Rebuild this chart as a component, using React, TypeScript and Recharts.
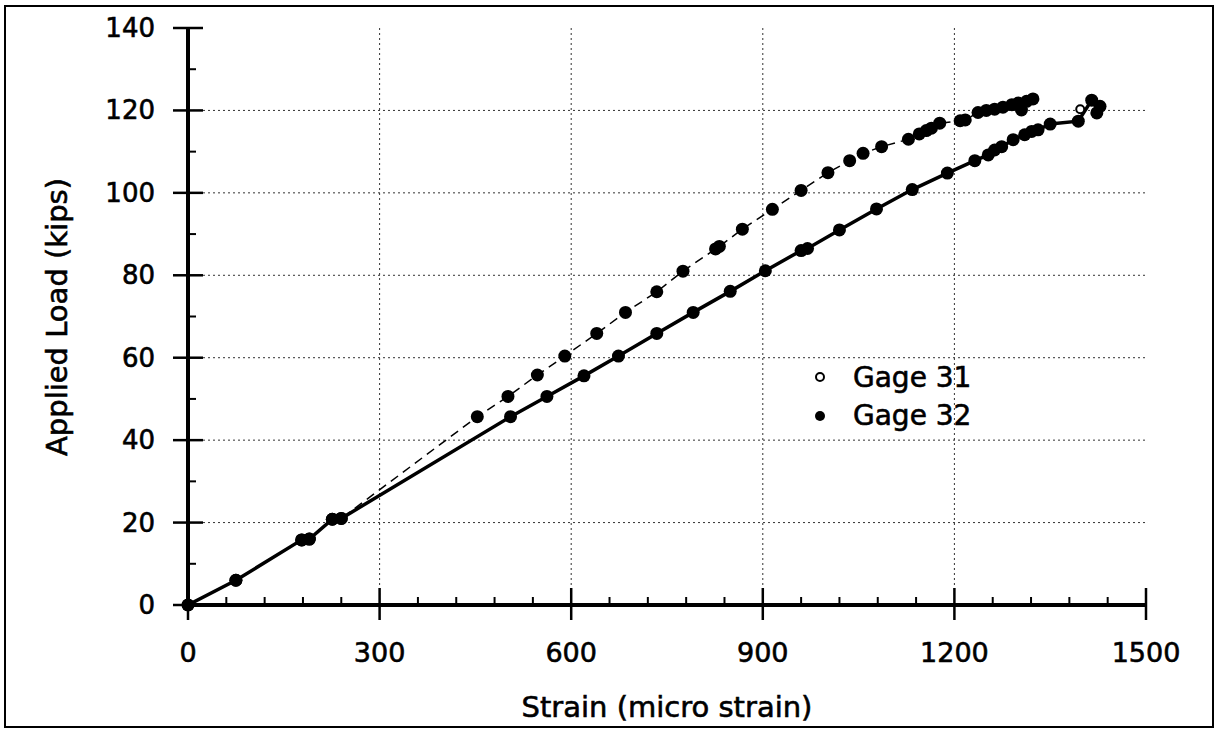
import React from 'react';
import { LineChart, Line, XAxis, YAxis, ReferenceLine } from 'recharts';

// ---- tick labels / axes ----
const xTicks = [0, 60, 120, 180, 240, 300, 360, 420, 480, 540, 600, 660, 720, 780, 840, 900, 960, 1020, 1080, 1140, 1200, 1260, 1320, 1380, 1440, 1500];
const yTicks = [0, 10, 20, 30, 40, 50, 60, 70, 80, 90, 100, 110, 120, 130, 140];
const xMajor = [0, 300, 600, 900, 1200, 1500];
const yMajor = [0, 20, 40, 60, 80, 100, 120, 140];
const xGrid = [300, 600, 900, 1200];
const yGrid = [20, 40, 60, 80, 100, 120];

// ---- solid line series (markers) ----
const solidStrain = [0, 75, 178, 190, 226, 240, 505, 562, 620, 674, 734, 791, 849, 904, 960, 970, 1020, 1078, 1134, 1189, 1232, 1253, 1263, 1274, 1292, 1310, 1321, 1331, 1350, 1394, 1415, 1428, 1423];
const solidLoad = [0, 6, 15.8, 16, 20.8, 21, 45.7, 50.6, 55.6, 60.4, 65.9, 71, 76.1, 81.1, 86, 86.5, 91, 96.1, 100.8, 104.8, 107.8, 109.2, 110.4, 111.2, 112.9, 114.1, 114.9, 115.3, 116.7, 117.4, 122.5, 121, 119.4];

// ---- dashed line series (Gage 32) ----
const dashStrain = [0, 75, 178, 190, 226, 240, 453, 501, 547, 590, 640, 685, 734, 775, 826, 832, 868, 915, 960, 1002, 1036, 1057, 1086, 1128, 1145, 1156, 1164, 1177, 1209, 1217, 1237, 1250, 1263, 1276, 1290, 1300, 1313, 1323, 1305];
const dashLoad = [0, 6, 15.8, 16, 20.8, 21, 45.7, 50.6, 55.8, 60.4, 65.9, 71, 76, 81, 86.4, 87, 91.2, 96, 100.6, 104.9, 107.8, 109.6, 111.2, 113, 114.3, 115.1, 115.7, 116.9, 117.5, 117.7, 119.5, 120, 120.3, 120.8, 121.4, 121.8, 122.2, 122.8, 120.1];

// ---- open-circle points (Gage 31) ----
const openStrain = [1397];
const openLoad = [120.3];

const toPts = (xs: number[], ys: number[]) => xs.map((x, i) => ({ x, y: ys[i] }));
const solidData = toPts(solidStrain, solidLoad);
const dashData = toPts(dashStrain, dashLoad);
const openData = toPts(openStrain, openLoad);

const FONT = 'DejaVu Sans';
const TXT_STROKE = 0.6;

const BottomTick = (props: any) => {
  const { x, y, payload } = props;
  const major = xMajor.includes(payload.value);
  return (
    <g>
      {major ? (
        <line x1={x} x2={x} y1={y - 17} y2={y + 15} stroke="#000" strokeWidth={2.5} />
      ) : (
        <line x1={x} x2={x} y1={y - 8} y2={y} stroke="#000" strokeWidth={2} />
      )}
      {major && (
        <text x={x} y={y + 47} textAnchor="middle" dominantBaseline="central" fontFamily={FONT} fontSize={27} fill="#000" stroke="#000" strokeWidth={TXT_STROKE}>
          {payload.value}
        </text>
      )}
    </g>
  );
};

const TopTick = (props: any) => {
  const { x, y, payload } = props;
  const major = xMajor.includes(payload.value);
  return <line x1={x} x2={x} y1={y} y2={y + (major ? 15 : 8)} stroke="#000" strokeWidth={major ? 2.5 : 2} />;
};

const LeftTick = (props: any) => {
  const { x, y, payload } = props;
  const major = yMajor.includes(payload.value);
  return (
    <g>
      {major ? (
        <line x1={x - 15} x2={x + 15} y1={y} y2={y} stroke="#000" strokeWidth={2.5} />
      ) : (
        <line x1={x} x2={x + 8} y1={y} y2={y} stroke="#000" strokeWidth={2} />
      )}
      {major && (
        <text x={x - 33} y={y} textAnchor="end" dominantBaseline="central" fontFamily={FONT} fontSize={26} fill="#000" stroke="#000" strokeWidth={TXT_STROKE}>
          {payload.value}
        </text>
      )}
    </g>
  );
};

const RightTick = (props: any) => {
  const { x, y, payload } = props;
  const major = yMajor.includes(payload.value);
  return <line x1={x - (major ? 15 : 8)} x2={x} y1={y} y2={y} stroke="#000" strokeWidth={major ? 2.5 : 2} />;
};

const axisLineStyle = { stroke: '#000', strokeWidth: 4 };

export default function App() {
  return (
    <div style={{ position: 'absolute', left: 0, top: 0, width: 1223, height: 730, background: '#fff', fontFamily: FONT }}>
      <div
        style={{
          position: 'absolute',
          left: 4,
          top: 5,
          width: 1210,
          height: 723,
          border: '2px solid #000',
          boxSizing: 'border-box',
        }}
      />
      <div style={{ position: 'absolute', left: 0, top: 0 }}>
        <LineChart width={1223} height={730} margin={{ top: 28, right: 77, bottom: 95, left: 128 }}>
          <XAxis
            xAxisId={0}
            type="number"
            dataKey="x"
            domain={[0, 1500]}
            ticks={xTicks}
            interval={0}
            allowDataOverflow
            height={30}
            tickSize={0}
            tickMargin={0}
            tickLine={false}
            axisLine={axisLineStyle}
            tick={(p: any) => <BottomTick {...p} />}
          />
          <XAxis
            xAxisId="top"
            orientation="top"
            type="number"
            dataKey="x"
            domain={[0, 1500]}
            ticks={xTicks}
            interval={0}
            allowDataOverflow
            height={0}
            tickSize={0}
            tickMargin={0}
            tickLine={false}
            axisLine={axisLineStyle}
            tick={(p: any) => <TopTick {...p} />}
          />
          <YAxis
            yAxisId={0}
            type="number"
            domain={[0, 140]}
            ticks={yTicks}
            interval={0}
            allowDataOverflow
            width={60}
            tickSize={0}
            tickMargin={0}
            tickLine={false}
            axisLine={axisLineStyle}
            tick={(p: any) => <LeftTick {...p} />}
          />
          <YAxis
            yAxisId="right"
            orientation="right"
            type="number"
            domain={[0, 140]}
            ticks={yTicks}
            interval={0}
            allowDataOverflow
            width={0}
            tickSize={0}
            tickMargin={0}
            tickLine={false}
            axisLine={axisLineStyle}
            tick={(p: any) => <RightTick {...p} />}
          />
          {yGrid.map((v) => (
            <ReferenceLine key={'gy' + v} y={v} stroke="#333" strokeWidth={1} strokeDasharray="2 3" />
          ))}
          {xGrid.map((v) => (
            <ReferenceLine key={'gx' + v} x={v} stroke="#333" strokeWidth={1} strokeDasharray="2 3" />
          ))}
          <Line
            data={solidData}
            dataKey="y"
            type="linear"
            stroke="#000"
            strokeWidth={3.5}
            dot={{ r: 6.5, fill: '#000', stroke: '#000', strokeWidth: 0, clipDot: false } as any}
            isAnimationActive={false}
          />
          <Line
            data={dashData}
            dataKey="y"
            type="linear"
            stroke="#000"
            strokeWidth={1.5}
            strokeDasharray="9 6"
            dot={{ r: 6.5, fill: '#000', stroke: '#000', strokeWidth: 0, clipDot: false } as any}
            isAnimationActive={false}
          />
          <Line
            data={openData}
            dataKey="y"
            type="linear"
            stroke="none"
            dot={{ r: 4, fill: '#fff', stroke: '#000', strokeWidth: 2 }}
            isAnimationActive={false}
          />
        </LineChart>
      </div>
      {/* axis titles */}
      <div
        style={{
          position: 'absolute',
          left: 57,
          top: 317,
          transform: 'translate(-50%, -50%) rotate(-90deg)',
          whiteSpace: 'nowrap',
          fontSize: 29,
          color: '#000',
          WebkitTextStroke: '0.6px #000',
        }}
      >
        Applied Load (kips)
      </div>
      <div
        style={{
          position: 'absolute',
          left: 667,
          top: 707,
          transform: 'translate(-50%, -50%)',
          whiteSpace: 'nowrap',
          fontSize: 29,
          color: '#000',
          WebkitTextStroke: '0.6px #000',
        }}
      >
        Strain (micro strain)
      </div>
      {/* legend */}
      <svg style={{ position: 'absolute', left: 0, top: 0 }} width={1223} height={730} pointerEvents="none">
        <circle cx={820} cy={377} r={4} fill="#fff" stroke="#000" strokeWidth={2} />
        <text x={853} y={387} fontFamily={FONT} fontSize={28} fill="#000" stroke="#000" strokeWidth={TXT_STROKE}>Gage 31</text>
        <circle cx={820} cy={416} r={5} fill="#000" />
        <text x={853} y={425} fontFamily={FONT} fontSize={28} fill="#000" stroke="#000" strokeWidth={TXT_STROKE}>Gage 32</text>
      </svg>
    </div>
  );
}
